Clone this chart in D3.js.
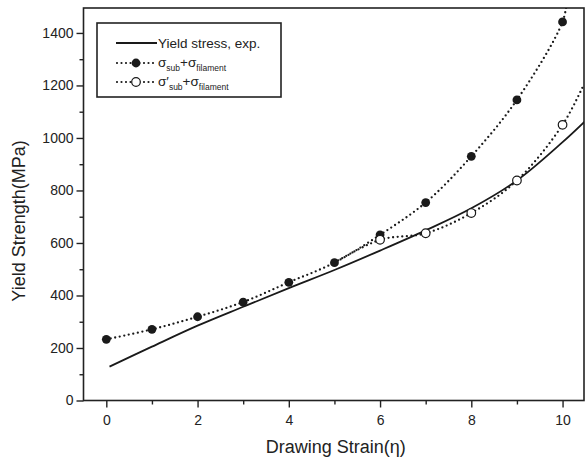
<!DOCTYPE html>
<html>
<head>
<meta charset="utf-8">
<script src="https://cdn.jsdelivr.net/npm/d3@7"></script>
<style>
  body { margin: 0; background: #fff; }
  text { font-family: "Liberation Sans", Arial, sans-serif; fill: #222; }
</style>
</head>
<body>
<script>
// data
var strain = [0, 1, 2, 3, 4, 5, 6, 7, 8, 9, 10];
var subFilament = [233, 271, 319, 375, 450, 525, 631, 754, 930, 1145, 1442];
var primeStrain = [6, 7, 8, 9, 10];
var primeSubFilament = [612, 637, 714, 838, 1050];
// where the dotted fits leave the frame
var fitTailX = [10.1, 10.47];
var fitTailY = [1530, 1205];
// experimental curve
var expStrain = [0.07, 1, 2, 3, 4, 5, 6, 7, 8, 9, 10, 10.5];
var expStress = [129, 205, 285, 357, 428, 497, 571, 648, 732, 838, 984, 1065];
var xTicks = [0, 1, 2, 3, 4, 5, 6, 7, 8, 9, 10];
var yTicks = [0, 100, 200, 300, 400, 500, 600, 700, 800, 900, 1000, 1100, 1200, 1300, 1400];

var width = 586, height = 460;
var m = {left: 83.5, right: 2, top: 8, bottom: 59.5};

var svg = d3.select("body").append("svg")
    .attr("width", width)
    .attr("height", height);

var x = d3.scaleLinear().domain([-0.5, 10.47]).range([m.left, width - m.right]);
var y = d3.scaleLinear().domain([0, 1495]).range([height - m.bottom, m.top]);

svg.append("defs").append("clipPath").attr("id", "plot")
    .append("rect")
    .attr("x", m.left).attr("y", m.top)
    .attr("width", width - m.right - m.left)
    .attr("height", height - m.bottom - m.top);

// axes
var xAxis = d3.axisBottom(x).tickValues(xTicks)
    .tickSize(7).tickFormat(function(d) { return d % 2 === 0 ? d : ""; });
var yAxis = d3.axisLeft(y).tickValues(yTicks)
    .tickSize(7).tickFormat(function(d) { return d % 200 === 0 ? d : ""; });

var gx = svg.append("g")
    .attr("transform", "translate(0," + (height - m.bottom) + ")")
    .call(xAxis);
var gy = svg.append("g")
    .attr("transform", "translate(" + m.left + ",0)")
    .call(yAxis);

[gx, gy].forEach(function(g) {
    g.select(".domain").remove();
    g.selectAll("line").attr("stroke", "#222").attr("stroke-width", 1.4);
    g.selectAll("text").style("font-size", "14px").attr("fill", "#222");
});
gx.selectAll(".tick").filter(function(d) { return d % 2 !== 0; })
    .select("line").attr("y2", 4);
gy.selectAll(".tick").filter(function(d) { return d % 200 !== 0; })
    .select("line").attr("x2", -4);
gx.selectAll("text").attr("dy", "1.05em");
gy.selectAll("text").attr("x", -10);

// frame
svg.append("rect")
    .attr("x", m.left).attr("y", m.top)
    .attr("width", width - m.right - m.left)
    .attr("height", height - m.bottom - m.top)
    .attr("fill", "none").attr("stroke", "#222").attr("stroke-width", 1.6);

// axis titles
svg.append("text")
    .attr("x", (m.left + width - m.right) / 2 + 2).attr("y", 453)
    .attr("text-anchor", "middle").style("font-size", "18px")
    .text("Drawing Strain(η)");
svg.append("text")
    .attr("transform", "translate(25,221) rotate(-90)")
    .attr("text-anchor", "middle").style("font-size", "18px")
    .text("Yield Strength(MPa)");

var plot = svg.append("g").attr("clip-path", "url(#plot)");

var line = d3.line()
    .x(function(d) { return x(d[0]); })
    .y(function(d) { return y(d[1]); })
    .curve(d3.curveCatmullRom.alpha(0.5));

var expPts = d3.zip(expStrain, expStress);
var filledPts = d3.zip(strain, subFilament).concat([[fitTailX[0], fitTailY[0]]]);
var openPts = d3.zip(primeStrain, primeSubFilament).concat([[fitTailX[1], fitTailY[1]]]);
openPts.unshift([5, subFilament[5]]);

plot.append("path").attr("d", line(expPts))
    .attr("fill", "none").attr("stroke", "#1a1a1a").attr("stroke-width", 1.8);

[filledPts, openPts].forEach(function(pts) {
    plot.append("path").attr("d", line(pts))
        .attr("fill", "none").attr("stroke", "#1a1a1a")
        .attr("stroke-width", 2.3)
        .attr("stroke-linecap", "round")
        .attr("stroke-dasharray", "0,4.6");
});

plot.selectAll(".filled")
    .data(d3.zip(strain, subFilament))
    .enter().append("circle")
    .attr("class", "filled")
    .attr("cx", function(d) { return x(d[0]); })
    .attr("cy", function(d) { return y(d[1]); })
    .attr("r", 4.4)
    .attr("fill", "#1a1a1a");

plot.selectAll(".open")
    .data(d3.zip(primeStrain, primeSubFilament))
    .enter().append("circle")
    .attr("class", "open")
    .attr("cx", function(d) { return x(d[0]); })
    .attr("cy", function(d) { return y(d[1]); })
    .attr("r", 4.3)
    .attr("fill", "#fff")
    .attr("stroke", "#1a1a1a")
    .attr("stroke-width", 1.2);

// legend
var lg = svg.append("g");
lg.append("rect")
    .attr("x", 97).attr("y", 23).attr("width", 184).attr("height", 74)
    .attr("fill", "#fff").attr("stroke", "#222").attr("stroke-width", 1.6);

var rows = [43, 63, 82];
lg.append("line").attr("x1", 116).attr("x2", 157).attr("y1", rows[0]).attr("y2", rows[0])
    .attr("stroke", "#1a1a1a").attr("stroke-width", 1.8);
[1, 2].forEach(function(i) {
    lg.append("line").attr("x1", 117).attr("x2", 156).attr("y1", rows[i]).attr("y2", rows[i])
        .attr("stroke", "#1a1a1a").attr("stroke-width", 2.2)
        .attr("stroke-linecap", "round").attr("stroke-dasharray", "0,4.5");
});
lg.append("circle").attr("cx", 136).attr("cy", rows[1]).attr("r", 4.4).attr("fill", "#1a1a1a");
lg.append("circle").attr("cx", 136).attr("cy", rows[2]).attr("r", 4.3)
    .attr("fill", "#fff").attr("stroke", "#1a1a1a").attr("stroke-width", 1.2);

lg.append("text").attr("x", 158).attr("y", rows[0] + 5).style("font-size", "13.5px")
    .text("Yield stress, exp.");

function sigmaLabel(yy, prime) {
    var t = lg.append("text").attr("x", 158).attr("y", yy + 4).style("font-size", "13.5px");
    t.append("tspan").text(prime ? "σ′" : "σ");
    t.append("tspan").attr("dy", 4).style("font-size", "8.5px").text("sub");
    t.append("tspan").attr("dy", -4).text("+σ");
    t.append("tspan").attr("dy", 4).style("font-size", "8.5px").text("filament");
}
sigmaLabel(rows[1], false);
sigmaLabel(rows[2], true);
</script>
</body>
</html>
